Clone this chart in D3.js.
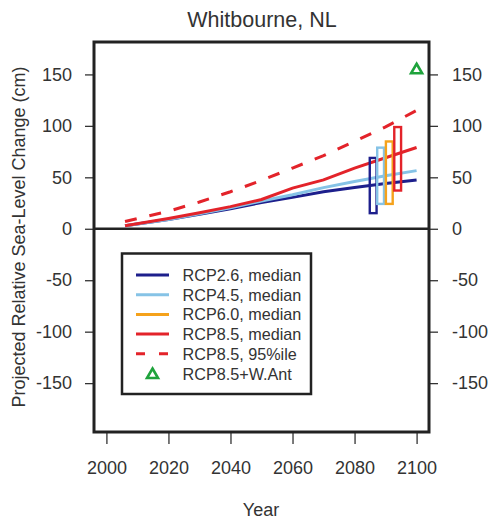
<!DOCTYPE html>
<html><head><meta charset="utf-8">
<script src="https://cdn.jsdelivr.net/npm/d3@7"></script>
<style>body{margin:0;background:#fff}svg{display:block}text{font-family:"Liberation Sans",Arial,sans-serif;fill:#333}</style>
</head><body><svg id="c" width="490" height="525"></svg>
<script>
const years = [2006, 2020, 2030, 2040, 2050, 2060, 2070, 2080, 2090, 2100];
const rcp26 = [3, 9, 14, 19.5, 25.5, 30.5, 36, 40, 44, 47.5];
const rcp45 = [3, 9, 14.5, 20.5, 27, 33, 40, 46, 51.5, 56.5];
const rcp85 = [3, 10, 15.5, 21.5, 28.5, 39.5, 47.5, 59, 69, 79];
const rcp85p95 = [7, 17, 26, 36, 47, 59, 71, 85, 99, 115];
const rangeNames = ["RCP2.6", "RCP4.5", "RCP6.0", "RCP8.5"];
const rangeYears = [2086, 2088.4, 2091.2, 2093.9];
const rangeLow = [14, 23, 23, 36];
const rangeHigh = [70, 80, 86, 100];
const wantYear = 2100, wantValue = 155;
const xTicks = [2000, 2020, 2040, 2060, 2080, 2100];
const yTicks = [-150, -100, -50, 0, 50, 100, 150];
const legendLabels = ["RCP2.6, median", "RCP4.5, median", "RCP6.0, median", "RCP8.5, median", "RCP8.5, 95%ile", "RCP8.5+W.Ant"];

const C = {c26:"#1d1f8c", c45:"#86c3e6", c60:"#f5a21b", c85:"#e3232a", green:"#1fa33c"};
const rangeColors = [C.c26, C.c45, C.c60, C.c85];

const L = 94, R = 429, T = 42, B = 432;
const x = d3.scaleLinear().domain([1996, 2104]).range([L, R]);
const y = d3.scaleLinear().domain([-197.5, 181.5]).range([B, T]);
const svg = d3.select("#c");
const fmt = d => String(d);

// title
svg.append("text").attr("x", 262).attr("y", 27).attr("text-anchor", "middle").attr("font-size", 21.5).text("Whitbourne,  NL");

// axes
const ax = (g) => { g.select(".domain").remove(); g.selectAll("line").attr("stroke", "#333").attr("stroke-width", 1.3); g.selectAll("text").attr("font-size", 18).style("fill", "#333"); };
svg.append("g").attr("transform", `translate(${L},0)`).call(d3.axisLeft(y).tickValues(yTicks).tickFormat(fmt).tickSize(9).tickPadding(13)).call(ax);
svg.append("g").attr("transform", `translate(${R},0)`).call(d3.axisRight(y).tickValues(yTicks).tickFormat(fmt).tickSize(9).tickPadding(14)).call(ax);
svg.append("g").attr("transform", `translate(0,${B})`).call(d3.axisBottom(x).tickValues(xTicks).tickFormat(fmt).tickSize(12).tickPadding(17)).call(ax);

svg.append("text").attr("x", 261).attr("y", 516).attr("text-anchor", "middle").attr("font-size", 18).text("Year");
svg.append("text").attr("transform", `translate(25,${(T+B)/2}) rotate(-90)`).attr("text-anchor", "middle").attr("font-size", 18).text("Projected Relative Sea-Level Change (cm)");

// zero line
svg.append("line").attr("x1", L).attr("x2", R).attr("y1", y(0)).attr("y2", y(0)).attr("stroke", "#222").attr("stroke-width", 2.5);

const line = d3.line().x((d, i) => x(years[i])).y(d => y(d));
const series = [[rcp26, C.c26, null], [rcp45, C.c45, null], [rcp85, C.c85, null], [rcp85p95, C.c85, "12,13"]];
series.forEach(([vals, col, dash]) => {
  svg.append("path").attr("d", line(vals)).attr("fill", "none").attr("stroke", col).attr("stroke-width", 3).attr("stroke-dasharray", dash);
});

// ranges
rangeNames.forEach((n, i) => {
  const cx = x(rangeYears[i]);
  svg.append("rect").attr("x", cx - 3.4).attr("width", 6.8).attr("y", y(rangeHigh[i]) + 1.2).attr("height", y(rangeLow[i]) - y(rangeHigh[i]) - 2.4)
    .attr("fill", "none").attr("stroke", rangeColors[i]).attr("stroke-width", 2.4);
});

// triangle
const tri = (cx, cy) => `M${cx},${cy - 5.5}L${cx + 5.5},${cy + 4}L${cx - 5.5},${cy + 4}Z`;
svg.append("path").attr("d", tri(x(wantYear), y(wantValue))).attr("fill", "none").attr("stroke", C.green).attr("stroke-width", 2.6);

// box
svg.append("rect").attr("x", L).attr("y", T).attr("width", R - L).attr("height", B - T).attr("fill", "none").attr("stroke", "#222").attr("stroke-width", 3);

// legend
const lg = svg.append("g");
lg.append("rect").attr("x", 122).attr("y", 253.5).attr("width", 189).attr("height", 140.5).attr("fill", "#fff").attr("stroke", "#222").attr("stroke-width", 2.5);
const legStyles = [[C.c26, null], [C.c45, null], [C.c60, null], [C.c85, null], [C.c85, "9,14"], [C.green, "tri"]];
legendLabels.forEach((lab, i) => {
  const cy = 275 + i * 19.7;
  const [col, dash] = legStyles[i];
  if (dash === "tri") {
    lg.append("path").attr("d", tri(152.5, cy + 0.5)).attr("fill", "none").attr("stroke", col).attr("stroke-width", 2.6);
  } else {
    lg.append("line").attr("x1", 136).attr("x2", 169).attr("y1", cy).attr("y2", cy).attr("stroke", col).attr("stroke-width", 3).attr("stroke-dasharray", dash);
  }
  lg.append("text").attr("x", 182.5).attr("y", cy + 6).attr("font-size", 16.2).text(lab);
});
</script></body></html>
